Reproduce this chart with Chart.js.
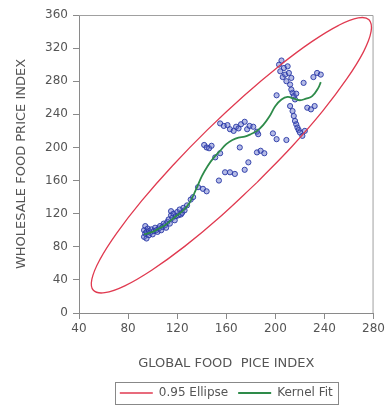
<!DOCTYPE html>
<html>
<head>
<meta charset="utf-8">
<script src="https://cdn.jsdelivr.net/npm/chart.js@4"></script>
<style>
  html, body { margin: 0; padding: 0; background: #fff; }
  #chart { display: block; }
</style>
</head>
<body>
<canvas id="chart" width="388" height="411"></canvas>
<script>
const ctx = document.getElementById('chart').getContext('2d');

// scatter: global food price index vs wholesale food price index
const pointsX = [93, 93, 94, 94, 95, 95, 96, 97, 97, 98, 99, 100, 101, 102, 103, 104, 105, 106, 107, 108,
  109, 110, 111, 112, 113, 114, 115, 115, 116, 117, 118, 119, 120, 121, 122, 123, 124, 125, 126, 128,
  131, 133, 137, 141, 144,
  142, 144, 146, 148, 151, 155, 155, 158, 161, 163, 166, 168, 170, 172, 175, 177, 179, 182, 185, 186,
  154, 159, 163, 167, 171, 175, 178, 185, 188, 191, 198, 201, 209,
  201, 203, 204, 205, 206, 207, 208, 209, 210, 211, 212, 213, 214, 215, 216, 213, 217,
  212, 214, 215, 216, 217, 218, 219, 220, 222, 224, 223, 226, 229, 232, 231, 234, 237];
const pointsY = [92, 100, 96, 105, 90, 98, 102, 94, 99, 97, 101, 95, 99, 103, 100, 98, 102, 105, 100, 104,
  108, 106, 103, 110, 113, 108, 118, 123, 115, 120, 112, 117, 122, 118, 125, 119, 121, 127, 124, 130,
  137, 140, 152, 150, 147,
  203, 200, 199, 202, 188, 193, 229, 226, 227, 222, 220, 225, 223, 228, 231, 222, 226, 225, 219, 216,
  160, 170, 170, 168, 200, 173, 182, 194, 196, 193, 217, 210, 209,
  263, 300, 292, 305, 285, 296, 288, 280, 298, 290, 276, 284, 266, 262, 258, 270, 265,
  250, 244, 238, 232, 228, 224, 221, 218, 214, 220, 278, 248, 246, 250, 285, 290, 288];

// kernel fit curve
const kernelX = [93, 100, 105, 110, 115, 120, 125, 130, 135, 140, 145, 150, 155, 160, 165, 170, 175,
  180, 185, 190, 195, 200, 205, 210, 215, 220, 225, 230, 235, 237];
const kernelY = [95, 98, 102, 106, 112, 118, 124, 133, 148, 165, 178, 188, 196, 204, 209, 212, 213,
  216, 220, 227, 237, 250, 258, 261, 259, 257, 259, 262, 272, 279];

// 0.95 ellipse outline
const ellipseX = [185.1, 155.3, 126.1, 99.5, 77.3, 61.0, 51.7, 50.5, 57.0, 70.9, 91.0, 116.2, 144.6,
  174.4, 203.4, 229.7, 251.6, 267.5, 276.3, 278.0, 271.9, 258.3, 238.5, 213.5, 185.1];
const ellipseY = [157.8, 116.6, 80.5, 52.0, 32.8, 24.5, 27.4, 40.9, 64.5, 96.8, 135.4, 177.9, 221.2,
  262.5, 298.8, 327.8, 347.5, 356.5, 354.2, 340.1, 315.8, 283.0, 243.9, 201.2, 157.8];

const xTicks = [40, 80, 120, 160, 200, 240, 280];
const yTicks = [0, 40, 80, 120, 160, 200, 240, 280, 320, 360];

const toXY = (xs, ys) => xs.map((x, i) => ({ x: x, y: ys[i] }));

const FONT = 'DejaVu Sans';
const TEXT = '#555';
const AXIS = '#8a8a8a';

// frame on top/right and box around the legend
const framePlugin = {
  id: 'frame',
  beforeDatasetsDraw(chart) {
    const a = chart.chartArea;
    const c = chart.ctx;
    c.save();
    c.strokeStyle = '#a0a0a0';
    c.lineWidth = 1;
    c.beginPath();
    c.moveTo(a.left, a.top + 0.5);
    c.lineTo(a.right - 0.5, a.top + 0.5);
    c.lineTo(a.right - 0.5, a.bottom);
    c.stroke();
    c.restore();
  },
  afterDraw(chart) {
    const boxes = chart.legend.legendHitBoxes;
    if (!boxes || !boxes.length) return;
    let l = Infinity, r = -Infinity, t = Infinity, b = -Infinity;
    boxes.forEach(h => {
      l = Math.min(l, h.left); r = Math.max(r, h.left + h.width);
      t = Math.min(t, h.top); b = Math.max(b, h.top + h.height);
    });
    const c = chart.ctx;
    c.save();
    c.strokeStyle = '#888';
    c.lineWidth = 1;
    c.strokeRect(Math.round(l - 5) + 0.5, Math.round(t - 5) + 0.5, Math.round(r - l + 10), Math.round(b - t + 10));
    c.restore();
  }
};

new Chart(ctx, {
  type: 'scatter',
  data: {
    datasets: [
      {
        type: 'line',
        label: '0.95 Ellipse',
        data: toXY(ellipseX, ellipseY),
        borderColor: '#e03a50',
        backgroundColor: '#e03a50',
        borderWidth: 1.3,
        pointRadius: 0,
        tension: 0.4,
        fill: false
      },
      {
        type: 'line',
        label: 'Kernel Fit',
        data: toXY(kernelX, kernelY),
        borderColor: '#2e8b4a',
        backgroundColor: '#2e8b4a',
        borderWidth: 1.8,
        pointRadius: 0,
        tension: 0.4,
        fill: false
      },
      {
        label: 'points',
        data: toXY(pointsX, pointsY),
        borderColor: 'rgba(40,55,165,0.9)',
        backgroundColor: 'rgba(90,105,200,0.45)',
        borderWidth: 1,
        pointRadius: 2.6
      }
    ]
  },
  options: {
    responsive: false,
    animation: false,
    layout: { padding: { top: 15, right: 9, bottom: 2, left: 0 } },
    plugins: {
      legend: {
        position: 'bottom',
        fullSize: false,
        labels: {
          usePointStyle: true,
          pointStyle: 'line',
          pointStyleWidth: 33,
          padding: 10,
          color: TEXT,
          font: { family: FONT, size: 12 },
          filter: item => item.text !== 'points'
        }
      },
      tooltip: { enabled: false }
    },
    scales: {
      x: {
        type: 'linear',
        min: 40,
        max: 280,
        afterBuildTicks: s => { s.ticks = xTicks.map(v => ({ value: v })); },
        afterFit: s => { s.height = 64; },
        grid: { drawOnChartArea: false, drawTicks: true, tickLength: 6, color: AXIS },
        border: { color: AXIS },
        ticks: { color: TEXT, padding: 3, font: { family: FONT, size: 12 } },
        title: {
          display: true,
          text: 'GLOBAL FOOD  PICE INDEX',
          color: TEXT,
          font: { family: FONT, size: 13 },
          padding: { top: 0, bottom: 6 }
        }
      },
      y: {
        type: 'linear',
        min: 0,
        max: 360,
        afterBuildTicks: s => { s.ticks = yTicks.map(v => ({ value: v })); },
        afterFit: s => { s.width = 79; },
        grid: { drawOnChartArea: false, drawTicks: true, tickLength: 6, color: AXIS },
        border: { color: AXIS },
        ticks: { color: TEXT, padding: 5, font: { family: FONT, size: 12 } },
        title: {
          display: true,
          text: 'WHOLESALE FOOD PRICE INDEX',
          color: TEXT,
          font: { family: FONT, size: 13 },
          padding: { top: 14, bottom: 0 }
        }
      }
    }
  },
  plugins: [framePlugin]
});
</script>
</body>
</html>
